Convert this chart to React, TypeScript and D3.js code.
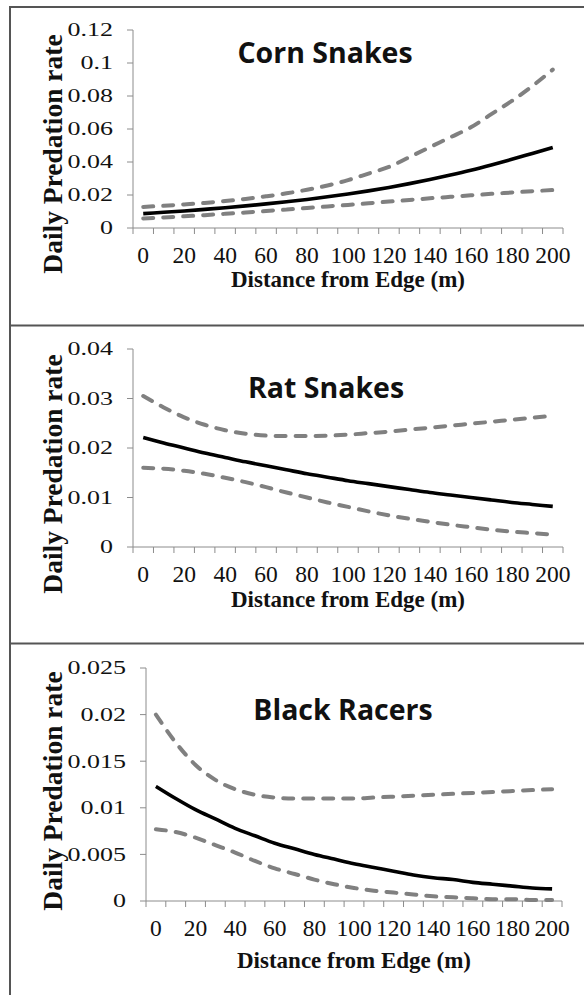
import React from 'react';
import * as d3 from 'd3';

// distance from edge (m), one category every 10 m
const distances = d3.range(0, 201, 10);
const xTickLabels = ['0', '20', '40', '60', '80', '100', '120', '140', '160', '180', '200'];

const titles = ['Corn Snakes', 'Rat Snakes', 'Black Racers'];

const cornEstimate = [0.0087, 0.0095, 0.0103, 0.0113, 0.0123, 0.0134, 0.0146, 0.0159, 0.0173, 0.0189, 0.0206,
  0.0225, 0.0246, 0.0269, 0.0294, 0.0321, 0.035, 0.0382, 0.0416, 0.0452, 0.0488];
const cornUpper = [0.0128, 0.0135, 0.0143, 0.0152, 0.0163, 0.0176, 0.0192, 0.021, 0.0232, 0.0258, 0.029,
  0.033, 0.037, 0.043, 0.049, 0.055, 0.061, 0.069, 0.077, 0.086, 0.096];
const cornLower = [0.0058, 0.0064, 0.0071, 0.0078, 0.0086, 0.0094, 0.0103, 0.0112, 0.0121, 0.0131, 0.014,
  0.015, 0.016, 0.017, 0.018, 0.0189, 0.0198, 0.0207, 0.0215, 0.0223, 0.023];

const ratEstimate = [0.0221, 0.021, 0.02, 0.019, 0.0181, 0.0172, 0.0164, 0.0156, 0.0148, 0.0141, 0.0134,
  0.0128, 0.0122, 0.0116, 0.011, 0.0105, 0.01, 0.0095, 0.009, 0.0086, 0.0082];
const ratUpper = [0.0305, 0.0282, 0.0262, 0.0247, 0.0236, 0.0229, 0.0225, 0.0224, 0.0224, 0.0225, 0.0227,
  0.023, 0.0233, 0.0237, 0.0241, 0.0245, 0.0249, 0.0253, 0.0257, 0.0261, 0.0265];
const ratLower = [0.016, 0.0158, 0.0154, 0.0148, 0.014, 0.0131, 0.0121, 0.011, 0.01, 0.009, 0.0081,
  0.0072, 0.0064, 0.0057, 0.0051, 0.0045, 0.004, 0.0035, 0.0031, 0.0028, 0.0025];

const racerEstimate = [0.0123, 0.011, 0.0098, 0.0088, 0.0078, 0.007, 0.0062, 0.0056, 0.005, 0.0045, 0.004,
  0.0036, 0.0032, 0.0028, 0.0025, 0.0023, 0.002, 0.0018, 0.0016, 0.0014, 0.0013];
const racerUpper = [0.02, 0.017, 0.0146, 0.013, 0.012, 0.0114, 0.0111, 0.011, 0.011, 0.011, 0.011,
  0.0111, 0.0112, 0.0113, 0.0114, 0.0115, 0.0116, 0.0117, 0.0118, 0.0119, 0.012];
const racerLower = [0.0077, 0.0074, 0.0068, 0.006, 0.0052, 0.0043, 0.0035, 0.0029, 0.0023, 0.0018, 0.0014,
  0.0011, 0.0009, 0.0007, 0.0005, 0.0004, 0.0003, 0.0002, 0.0002, 0.0001, 0.0001];

const cornYTicks = [0, 0.02, 0.04, 0.06, 0.08, 0.1, 0.12];
const ratYTicks = [0, 0.01, 0.02, 0.03, 0.04];
const racerYTicks = [0, 0.005, 0.01, 0.015, 0.02, 0.025];

const W = 584;
const H = 995;

// where each panel sits on the page
const panels = [
  { title: titles[0], est: cornEstimate, up: cornUpper, lo: cornLower, yTicks: cornYTicks,
    x0: 133, x1: 563, top: 30, bottom: 228, titleX: 325, titleY: 63, yTitleY: 154, xTitleY: 287 },
  { title: titles[1], est: ratEstimate, up: ratUpper, lo: ratLower, yTicks: ratYTicks,
    x0: 133, x1: 563, top: 349, bottom: 547, titleX: 326, titleY: 398, yTitleY: 474, xTitleY: 607 },
  { title: titles[2], est: racerEstimate, up: racerUpper, lo: racerLower, yTicks: racerYTicks,
    x0: 146, x1: 562, top: 668, bottom: 901, titleX: 343, titleY: 720, yTitleY: 791, xTitleY: 968 },
];

const serif = '"Liberation Serif", "Times New Roman", serif';
const axisColor = '#8c8c8c';

function Panel({ p }) {
  const x = d3.scaleBand().domain(distances.map(String)).range([p.x0, p.x1]).paddingInner(0).paddingOuter(0);
  const bw = x.bandwidth();
  const yMax = p.yTicks[p.yTicks.length - 1];
  const y = d3.scaleLinear().domain([0, yMax]).range([p.bottom, p.top]);
  const cx = (d) => x(String(d)) + bw / 2;

  const line = d3.line().x((d, i) => cx(distances[i])).y((d) => y(d)).curve(d3.curveMonotoneX);

  const boundaries = distances.map((d) => x(String(d))).concat([p.x1]);

  return (
    <g>
      {/* y axis */}
      <line x1={p.x0} x2={p.x0} y1={p.top} y2={p.bottom} stroke={axisColor} strokeWidth={1} />
      {p.yTicks.map((t) => (
        <g key={t}>
          <line x1={p.x0 - 6} x2={p.x0} y1={y(t)} y2={y(t)} stroke={axisColor} strokeWidth={1} />
          <text transform={`translate(${p.x0 - 20},${y(t)}) scale(1,0.72)`} dy="0.34em" textAnchor="end"
            fontFamily={serif} fontSize={26} fill="#111">{String(t)}</text>
        </g>
      ))}
      {/* x axis, ticks between categories */}
      <line x1={p.x0} x2={p.x1} y1={p.bottom} y2={p.bottom} stroke={axisColor} strokeWidth={1} />
      {boundaries.map((b, i) => (
        <line key={i} x1={b} x2={b} y1={p.bottom} y2={p.bottom + 6} stroke={axisColor} strokeWidth={1} />
      ))}
      {xTickLabels.map((l) => (
        <text key={l} x={cx(+l)} y={p.bottom + 35} textAnchor="middle" fontFamily={serif} fontSize={23.5} fill="#111">{l}</text>
      ))}
      <text x={(p.x0 + p.x1) / 2} y={p.xTitleY} textAnchor="middle" fontFamily={serif} fontWeight="bold" fontSize={23} fill="#111">
        Distance from Edge (m)
      </text>
      <text transform={`translate(62,${p.yTitleY}) rotate(-90)`} textAnchor="middle" fontFamily={serif} fontWeight="bold" fontSize={27.5} fill="#111">
        Daily Predation rate
      </text>
      <text x={p.titleX} y={p.titleY} textAnchor="middle" fontFamily='"Open Sans", sans-serif' fontWeight="bold" fontSize={28.5} fill="#111">
        {p.title}
      </text>
      {/* confidence limits and estimate */}
      <path d={line(p.up)} fill="none" stroke="#808080" strokeWidth={4} strokeDasharray="10,10" strokeLinecap="round" />
      <path d={line(p.lo)} fill="none" stroke="#808080" strokeWidth={4} strokeDasharray="10,10" strokeLinecap="round" />
      <path d={line(p.est)} fill="none" stroke="#000" strokeWidth={3.6} />
    </g>
  );
}

export default function App() {
  return (
    <svg width={W} height={H} style={{ position: 'absolute', left: 0, top: 0, background: '#fff' }}>
      <rect x={0} y={0} width={W} height={H} fill="#fff" />
      <line x1={10} x2={W} y1={7} y2={7} stroke="#555" strokeWidth={2} />
      <line x1={10} x2={W} y1={325.5} y2={325.5} stroke="#555" strokeWidth={2} />
      <line x1={10} x2={W} y1={643.5} y2={643.5} stroke="#555" strokeWidth={2} />
      <line x1={10} x2={10} y1={6} y2={H} stroke="#555" strokeWidth={2} />
      {panels.map((p) => <Panel key={p.title} p={p} />)}
    </svg>
  );
}
